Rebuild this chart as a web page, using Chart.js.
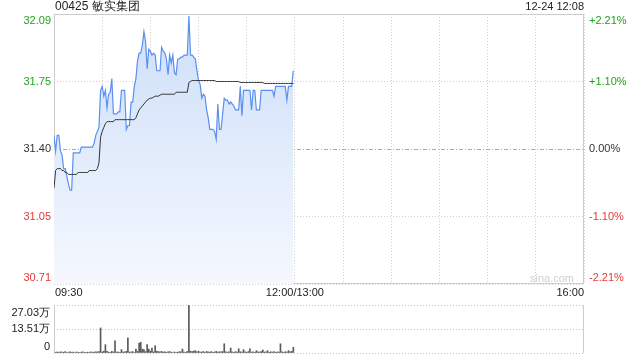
<!DOCTYPE html>
<html lang="zh">
<head>
<meta charset="UTF-8">
<title>00425 敏实集团</title>
<script src="https://cdn.jsdelivr.net/npm/chart.js"></script>
<style>
  body { margin: 0; background: #fff; }
  .wrap { position: relative; width: 640px; height: 360px; }
  #price { position: absolute; left: 0; top: 0; }
  #vol { position: absolute; left: 0; top: 296px; }
</style>
</head>
<body>
<div class="wrap">
  <canvas id="price" width="640" height="300"></canvas>
  <canvas id="vol" width="640" height="64"></canvas>
</div>

<script>
// 分时数据 09:30 - 12:00 (每分钟)
const prices = [
  31.47, 31.39, 31.47, 31.47, 31.39, 31.37, 31.30, 31.30, 31.26, 31.22,
  31.19, 31.19, 31.38, 31.38, 31.38, 31.38, 31.38, 31.41, 31.41, 31.41,
  31.41, 31.41, 31.41, 31.41, 31.41, 31.43, 31.47, 31.49, 31.51, 31.70,
  31.72, 31.67, 31.70, 31.61, 31.68, 31.69, 31.76, 31.58, 31.58, 31.58,
  31.59, 31.59, 31.70, 31.70, 31.70, 31.50, 31.52, 31.52, 31.64, 31.64,
  31.72, 31.76, 31.85, 31.89, 31.89, 31.93, 32.00, 31.95, 31.81, 31.91,
  31.90, 31.88, 31.89, 31.88, 31.80, 31.80, 31.80, 31.92, 31.90, 31.89,
  31.86, 31.78, 31.88, 31.84, 31.88, 31.79, 31.78, 31.86, 31.86, 31.87,
  31.87, 31.88, 31.88, 31.88, 32.08, 31.88, 31.88, 31.87, 31.86, 31.80,
  31.75, 31.73, 31.66, 31.68, 31.67, 31.60, 31.56, 31.50, 31.50, 31.50,
  31.49, 31.45, 31.63, 31.50, 31.50, 31.58, 31.66, 31.65, 31.65, 31.63,
  31.64, 31.63, 31.62, 31.60, 31.60, 31.60, 31.72, 31.57, 31.70, 31.70,
  31.70, 31.70, 31.70, 31.60, 31.70, 31.70, 31.60, 31.60, 31.60, 31.70,
  31.70, 31.70, 31.70, 31.70, 31.70, 31.70, 31.70, 31.67, 31.72, 31.72,
  31.72, 31.72, 31.72, 31.72, 31.72, 31.65, 31.72, 31.72, 31.72, 31.80
];

const avgPrices = [
  31.20, 31.29, 31.30, 31.30, 31.30, 31.29, 31.29, 31.28, 31.28, 31.27,
  31.27, 31.27, 31.27, 31.27, 31.27, 31.28, 31.28, 31.28, 31.28, 31.28,
  31.28, 31.28, 31.29, 31.29, 31.29, 31.29, 31.29, 31.30, 31.33, 31.46,
  31.49, 31.51, 31.53, 31.54, 31.54, 31.54, 31.54, 31.54, 31.55, 31.55,
  31.55, 31.55, 31.55, 31.55, 31.55, 31.55, 31.55, 31.55, 31.55, 31.55,
  31.55, 31.56, 31.58, 31.60, 31.61, 31.62, 31.63, 31.64, 31.65, 31.655,
  31.66, 31.66, 31.665, 31.67, 31.67, 31.67, 31.675, 31.68, 31.68, 31.68,
  31.68, 31.68, 31.68, 31.68, 31.68, 31.68, 31.69, 31.69, 31.69, 31.69,
  31.69, 31.69, 31.69, 31.69, 31.74, 31.745, 31.75, 31.75, 31.75, 31.75,
  31.75, 31.75, 31.75, 31.75, 31.75, 31.75, 31.75, 31.75, 31.75, 31.75,
  31.75, 31.745, 31.745, 31.745, 31.745, 31.745, 31.745, 31.745, 31.745, 31.745,
  31.745, 31.745, 31.745, 31.745, 31.745, 31.745, 31.74, 31.74, 31.74, 31.74,
  31.74, 31.74, 31.74, 31.74, 31.74, 31.74, 31.74, 31.74, 31.74, 31.74,
  31.74, 31.735, 31.735, 31.735, 31.735, 31.735, 31.735, 31.735, 31.735, 31.735,
  31.735, 31.735, 31.735, 31.735, 31.735, 31.735, 31.735, 31.735, 31.735, 31.735
];

// 成交量 (万股)
const volumes = [
  1.3, 0.4, 0.6, 0.3, 0.7, 0.5, 0.4, 0.8, 0.3, 0.5,
  0.6, 0.4, 0.5, 0.3, 0.6, 0.4, 0.3, 0.5, 0.7, 0.3,
  0.4, 0.5, 0.3, 0.6, 0.4, 0.5, 0.7, 0.6, 0.8, 14.1,
  0.6, 1.0, 4.7, 0.9, 0.5, 0.4, 0.9, 0.6, 6.9, 0.5,
  0.6, 0.4, 1.9, 0.5, 0.7, 0.9, 8.6, 0.6, 0.5, 0.8,
  0.3, 2.2, 0.9, 5.6, 6.0, 2.2, 1.9, 0.8, 4.7, 2.2,
  1.1, 2.8, 0.6, 4.1, 1.0, 0.8, 0.6, 0.9, 0.5, 0.7,
  0.4, 0.6, 0.8, 0.5, 0.3, 0.6, 0.4, 0.5, 0.7, 0.6,
  2.2, 0.5, 0.4, 0.9, 27.03, 1.0, 0.8, 1.1, 1.3, 0.7,
  1.0, 0.5, 0.6, 0.8, 0.4, 0.9, 0.6, 0.5, 0.8, 0.4,
  0.6, 0.9, 0.5, 0.7, 0.6, 0.8, 5.2, 0.6, 0.5, 0.7,
  2.8, 0.6, 0.4, 0.8, 0.5, 2.4, 0.7, 0.5, 1.9, 0.6,
  0.4, 0.8, 2.4, 0.5, 0.7, 0.4, 1.3, 0.6, 0.5, 0.8,
  1.7, 0.5, 0.6, 1.3, 0.4, 0.7, 0.5, 0.8, 0.4, 0.6,
  0.5, 5.2, 0.6, 0.4, 0.7, 0.5, 1.3, 0.6, 0.9, 3.2
];

const priceTickValues = [32.09, 31.745, 31.40, 31.055, 30.71];
const priceTickLabels = ['32.09', '31.75', '31.40', '31.05', '30.71'];
const pctTickLabels = ['+2.21%', '+1.10%', '0.00%', '-1.10%', '-2.21%'];
const volTickValues = [27.03, 13.515, 0];
const volTickLabels = ['27.03万', '13.51万', '0'];
const timeTicks = [0, 150, 330];
const timeLabels = ['09:30', '12:00/13:00', '16:00'];

const title = '00425 敏实集团';
const stamp = '12-24 12:08';

const FONT = '"Liberation Sans", Arial, sans-serif';
const GREEN = '#1fa31f';
const RED = '#e53935';
const DARK = '#333';
const tickColors = [GREEN, GREEN, DARK, RED, RED];

function drawText(ctx, txt, x, y, align, base, color, size) {
  ctx.font = size + 'px ' + FONT;
  ctx.textAlign = align;
  ctx.textBaseline = base;
  ctx.fillStyle = color;
  ctx.fillText(txt, x, y);
}

const priceDecor = {
  id: 'priceDecor',
  beforeDatasetsDraw(chart) {
    const { ctx, chartArea: a } = chart;
    ctx.save();
    ctx.strokeStyle = '#ccc';
    ctx.lineWidth = 1;
    ctx.setLineDash([]);
    ctx.strokeRect(Math.round(a.left) + 0.5, Math.round(a.top) + 0.5,
                   Math.round(a.width) - 1, Math.round(a.height) - 1);
    drawText(ctx, 'sina.com', a.right - 32, a.bottom - 5, 'center', 'middle', '#cfcfcf', 11);
    ctx.restore();
  },
  afterDraw(chart) {
    const { ctx, chartArea: a, scales: { x, y } } = chart;
    ctx.save();
    drawText(ctx, title, a.left + 1, 7, 'left', 'middle', '#222', 12);
    drawText(ctx, stamp, a.right, 7, 'right', 'middle', '#222', 11);
    priceTickValues.forEach((v, i) => {
      const py = y.getPixelForValue(v);
      const base = i === 0 ? 'top' : (i === priceTickValues.length - 1 ? 'bottom' : 'middle');
      const off = i === 0 ? 1 : (i === priceTickValues.length - 1 ? -1 : 0);
      drawText(ctx, priceTickLabels[i], a.left - 3, py + off, 'right', base, tickColors[i], 11);
      drawText(ctx, pctTickLabels[i], a.right + 5, py + off, 'left', base, tickColors[i], 11);
    });
    const aligns = ['left', 'center', 'right'];
    timeTicks.forEach((t, i) => {
      drawText(ctx, timeLabels[i], x.getPixelForValue(t) + (i === 0 ? 1 : 0), a.bottom + 9,
               aligns[i], 'middle', '#222', 11);
    });
    ctx.restore();
  }
};

const volDecor = {
  id: 'volDecor',
  afterDraw(chart) {
    const { ctx, chartArea: a, scales: { y } } = chart;
    ctx.save();
    ctx.strokeStyle = '#ccc';
    ctx.lineWidth = 1;
    ctx.setLineDash([]);
    ctx.beginPath();
    ctx.moveTo(Math.round(a.left) + 0.5, a.top);
    ctx.lineTo(Math.round(a.left) + 0.5, a.bottom);
    ctx.moveTo(Math.round(a.right) - 0.5, a.top);
    ctx.lineTo(Math.round(a.right) - 0.5, a.bottom);
    ctx.stroke();
    volTickValues.forEach((v, i) => {
      const py = y.getPixelForValue(v);
      const base = i === 0 ? 'top' : (i === volTickValues.length - 1 ? 'bottom' : 'middle');
      const off = i === 0 ? 2 : (i === volTickValues.length - 1 ? -1 : 0);
      drawText(ctx, volTickLabels[i], a.left - 4, py + off, 'right', base, '#222', 11);
    });
    ctx.restore();
  }
};

function fillGradient(context) {
  const chart = context.chart;
  const a = chart.chartArea;
  if (!a) return 'rgba(200,218,248,0.6)';
  const g = chart.ctx.createLinearGradient(0, a.top, 0, a.bottom);
  g.addColorStop(0, '#cddff9');
  g.addColorStop(1, '#f5f8fe');
  return g;
}

new Chart(document.getElementById('price'), {
  type: 'line',
  data: {
    datasets: [
      {
        label: '均价',
        data: avgPrices.map((v, i) => ({ x: i, y: v })),
        borderColor: '#333',
        borderWidth: 1,
        pointRadius: 0,
        fill: false,
        order: 0
      },
      {
        label: '价格',
        data: prices.map((v, i) => ({ x: i, y: v })),
        borderColor: '#5b8ff0',
        borderWidth: 1.2,
        pointRadius: 0,
        fill: 'start',
        backgroundColor: fillGradient,
        order: 1
      }
    ]
  },
  options: {
    responsive: false,
    animation: false,
    layout: { padding: { left: 54, right: 56, top: 14, bottom: 16 } },
    plugins: { legend: { display: false }, tooltip: { enabled: false } },
    scales: {
      x: {
        type: 'linear',
        min: 0,
        max: 330,
        ticks: { display: false, stepSize: 30 },
        grid: { color: '#cfcfcf', drawTicks: false },
        border: { display: false, dash: [1, 2] },
        afterFit: s => { s.height = 0; }
      },
      y: {
        min: 30.71,
        max: 32.09,
        afterBuildTicks: s => { s.ticks = priceTickValues.map(v => ({ value: v })); },
        ticks: { display: false },
        grid: {
          color: c => (c.tick && Math.abs(c.tick.value - 31.40) < 0.001) ? '#aaa' : '#cfcfcf',
          drawTicks: false
        },
        border: {
          display: false,
          dash: c => (c.tick && Math.abs(c.tick.value - 31.40) < 0.001) ? [4, 2, 1, 2] : [1, 2]
        },
        afterFit: s => { s.width = 0; }
      }
    }
  },
  plugins: [priceDecor]
});

new Chart(document.getElementById('vol'), {
  type: 'bar',
  data: {
    datasets: [{
      label: '成交量',
      data: volumes.map((v, i) => ({ x: i, y: v })),
      backgroundColor: '#5a5a5a',
      barThickness: 1,
      borderWidth: 0
    }]
  },
  options: {
    responsive: false,
    animation: false,
    layout: { padding: { left: 54, right: 56, top: 9, bottom: 7 } },
    plugins: { legend: { display: false }, tooltip: { enabled: false } },
    scales: {
      x: {
        type: 'linear',
        offset: false,
        min: 0,
        max: 330,
        ticks: { display: false },
        grid: { display: false, drawTicks: false, offset: false },
        border: { display: false },
        afterFit: s => { s.height = 0; }
      },
      y: {
        min: 0,
        max: 27.03,
        afterBuildTicks: s => { s.ticks = volTickValues.map(v => ({ value: v })); },
        ticks: { display: false },
        grid: { color: '#c4c4c4', drawTicks: false },
        border: { display: false, dash: [1, 2] },
        afterFit: s => { s.width = 0; }
      }
    }
  },
  plugins: [volDecor]
});
</script>
</body>
</html>
